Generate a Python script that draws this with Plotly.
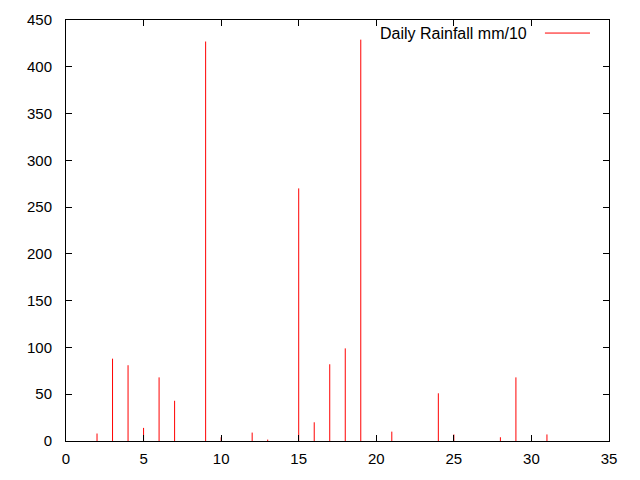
import plotly.graph_objects as go

# day of month and rainfall (mm/10)
days = [2, 3, 4, 5, 6, 7, 9, 10, 12, 13, 15, 16, 17, 18, 19, 21, 24, 25, 28, 29, 31]
rain = [8, 88, 81, 14, 68, 43, 427, 4, 9, 1.5, 270, 20, 82, 99, 429, 10, 51, 7, 4, 68, 7]

x_ticks = list(range(0, 36, 5))
y_ticks = list(range(0, 451, 50))

# impulses: one vertical segment per day
xs, ys = [], []
for d, r in zip(days, rain):
    xs += [d, d, None]
    ys += [0, r, None]

fig = go.Figure()
fig.add_trace(go.Scatter(x=xs, y=ys, mode="lines", line=dict(color="#ff0000", width=1),
                         showlegend=False, hoverinfo="skip"))

axis_style = dict(showline=True, linecolor="black", linewidth=1, mirror="allticks",
                  ticks="inside", ticklen=6, tickcolor="black", showgrid=False,
                  zeroline=False, automargin=False, tickfont=dict(color="black", size=15))

fig.update_xaxes(range=[0, 35], tickvals=x_ticks, ticklabelstandoff=4, **axis_style)
fig.update_yaxes(range=[0, 450], tickvals=y_ticks, ticklabelstandoff=10, **axis_style)

# gnuplot style key: text first, then the line sample
fig.add_annotation(xref="paper", yref="paper", x=0.853, y=0.969, xanchor="right", yanchor="middle",
                   text="Daily Rainfall mm/10", showarrow=False, font=dict(size=16, color="black"))
fig.add_shape(type="line", xref="paper", yref="paper", x0=0.882, x1=0.965, y0=0.969, y1=0.969,
              line=dict(color="#ff0000", width=1))

fig.update_layout(width=640, height=480, plot_bgcolor="white", paper_bgcolor="white",
                  margin=dict(l=58, r=39, t=12, b=47),
                  font=dict(family="Liberation Sans, Arial, sans-serif", size=15, color="black"))

fig.write_html("out.html")
